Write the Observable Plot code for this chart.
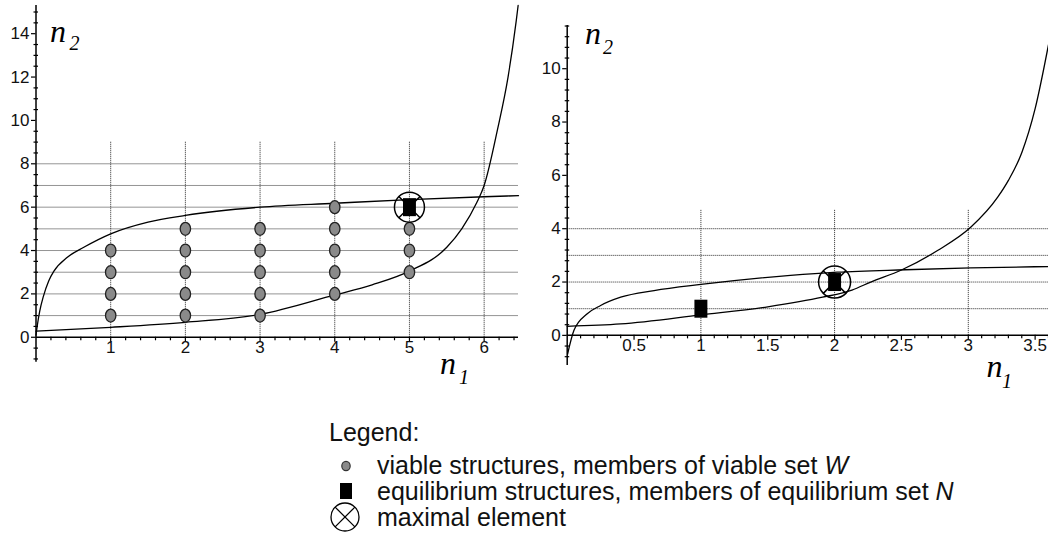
<!DOCTYPE html>
<html><head><meta charset="utf-8">
<script src="https://cdn.jsdelivr.net/npm/d3@7"></script>
<script src="https://cdn.jsdelivr.net/npm/@observablehq/plot@0.6"></script>
<style>
html,body{margin:0;padding:0;background:#fff;}
#page{position:relative;width:1048px;height:542px;overflow:hidden;background:#fff;}
#left,#right{position:absolute;top:0;}
#left{left:0;width:525px;}
#right{left:530px;width:518px;}
#page svg{display:block;}
#overlay{position:absolute;left:0;top:0;}
</style></head>
<body><div id="page"><div id="left"></div><div id="right"></div>
<svg id="overlay" width="1048" height="542"></svg></div>
<script>
// ---------------- data ----------------
// Left panel
const leftXTicks = [1, 2, 3, 4, 5, 6];
const leftYTicks = [0, 2, 4, 6, 8, 10, 12, 14];
const leftGridX = [1, 2, 3, 4, 5, 6];
const leftGridY = [1, 2, 3, 4, 5, 6, 7, 8];
const viableN1 = [1,1,1,1, 2,2,2,2,2, 3,3,3,3,3, 4,4,4,4,4, 5,5,5];
const viableN2 = [1,2,3,4, 1,2,3,4,5, 1,2,3,4,5, 2,3,4,5,6, 3,4,5];
const leftEqN1 = [5];
const leftEqN2 = [6];
const leftMaxN1 = [5];
const leftMaxN2 = [6];
const leftUpperX = [0, 0.02, 0.05, 0.1, 0.17, 0.24, 0.42, 0.64, 1.0, 1.5, 2.0, 3.0, 4.0, 5.0, 6.0, 6.46];
const leftUpperY = [0.1, 0.6, 1.2, 1.9, 2.6, 3.05, 3.69, 4.15, 4.77, 5.31, 5.62, 6.0, 6.18, 6.35, 6.48, 6.53];
const leftLowerX = [0, 1, 2, 3, 4, 4.5, 5, 5.5, 5.7, 5.9, 6.0, 6.18, 6.32, 6.43, 6.455];
const leftLowerY = [0.28, 0.46, 0.69, 1.05, 1.95, 2.42, 3.05, 4.15, 5.0, 6.2, 7.0, 9.6, 12, 14.6, 15.3];

// Right panel
const rightXTicks = [0.5, 1, 1.5, 2, 2.5, 3, 3.5];
const rightYTicks = [0, 2, 4, 6, 8, 10];
const rightGridX = [1, 2, 3];
const rightGridY = [1, 2, 3, 4];
const rightEqN1 = [1, 2];
const rightEqN2 = [1, 2];
const rightMaxN1 = [2];
const rightMaxN2 = [2];
const rightUpperX = [0.003, 0.05, 0.15, 0.25, 0.4, 0.65, 1.0, 1.67, 2.02, 2.53, 3.02, 3.6];
const rightUpperY = [-0.7, 0.18, 0.81, 1.12, 1.43, 1.68, 1.91, 2.25, 2.37, 2.46, 2.53, 2.58];
const rightLowerX = [0, 0.4, 1.0, 1.5, 1.91, 2.13, 2.27, 2.5, 2.77, 3.02, 3.22, 3.3, 3.4, 3.5, 3.6];
const rightLowerY = [0.34, 0.43, 0.77, 1.07, 1.43, 1.7, 2.0, 2.45, 3.18, 4.06, 5.18, 5.81, 6.85, 8.5, 10.9];

// ---------------- symbols ----------------
const ellipseSym = {draw(ctx, size) {
  const r = Math.sqrt(size / Math.PI), rx = r * 0.8, ry = r, k = 0.5523;
  ctx.moveTo(rx, 0);
  ctx.bezierCurveTo(rx, ry * k, rx * k, ry, 0, ry);
  ctx.bezierCurveTo(-rx * k, ry, -rx, ry * k, -rx, 0);
  ctx.bezierCurveTo(-rx, -ry * k, -rx * k, -ry, 0, -ry);
  ctx.bezierCurveTo(rx * k, -ry, rx, -ry * k, rx, 0);
  ctx.closePath();
}};
const rectSym = {draw(ctx, size) {
  const r = Math.sqrt(size / Math.PI), w = r * 1.44;
  ctx.rect(-w / 2, -r, w, 2 * r);
}};
const circleXSym = {draw(ctx, size) {
  const r = Math.sqrt(size / Math.PI), a = r * Math.SQRT1_2;
  ctx.moveTo(r, 0);
  ctx.arc(0, 0, r, 0, 2 * Math.PI);
  ctx.moveTo(-a, -a); ctx.lineTo(a, a);
  ctx.moveTo(-a, a); ctx.lineTo(a, -a);
}};

function zip(xs, ys) { return xs.map((x, i) => ({x, y: ys[i]})); }
function stepRange(a, b, s, skip) {
  const out = [];
  for (let i = Math.round(a / s); i * s <= b + 1e-9; i++) {
    const v = +(i * s).toFixed(4);
    if (!skip.some(m => Math.abs(m - v) < 1e-6)) out.push(v);
  }
  return out;
}

function panel(o) {
  const pxX = (o.width - o.mL - o.mR) / (o.xDom[1] - o.xDom[0]);
  const pxY = (o.height - o.mT - o.mB) / (o.yDom[1] - o.yDom[0]);
  const grid = {stroke: "#2a2a2a", strokeWidth: 1, strokeDasharray: "1,1"};
  const ax = {stroke: "#000", strokeWidth: 1.5};
  const tk = {stroke: "#000", strokeWidth: 1.2};
  const lab = {fontFamily: "Liberation Sans", fontSize: 17, fill: "#111"};
  return Plot.plot({
    width: o.width, height: o.height,
    marginLeft: o.mL, marginRight: o.mR, marginTop: o.mT, marginBottom: o.mB,
    x: {domain: o.xDom, axis: null},
    y: {domain: o.yDom, axis: null},
    style: {background: "transparent", overflow: "visible", maxWidth: "none"},
    marks: [
      Plot.ruleY(o.gridY, {y: d => d, x1: 0, x2: o.xDom[1], ...grid}),
      Plot.ruleX(o.gridX, {x: d => d, y1: 0, y2: o.gridTop, ...grid}),
      Plot.ruleX([0], {y1: o.yDom[0], y2: o.yDom[1], ...ax}),
      Plot.ruleY([0], {x1: 0, x2: o.xDom[1], ...ax}),
      Plot.ruleX(o.xTicks, {x: d => d, y1: 0, y2: -5 / pxY, ...tk}),
      Plot.ruleX(o.xMinor, {x: d => d, y1: 0, y2: -3.5 / pxY, ...tk}),
      Plot.ruleY(o.yTicks, {y: d => d, x1: -4.5 / pxX, x2: 0, ...tk}),
      Plot.ruleY(o.yMinor, {y: d => d, x1: -2 / pxX, x2: 2.5 / pxX, ...tk}),
      Plot.text(o.xTicks, {x: d => d, y: 0, text: d => String(d), lineAnchor: "top", dy: 4, ...lab}),
      Plot.text(o.yTicks, {x: 0, y: d => d, text: d => String(d), textAnchor: "end", dx: -6.5, ...lab}),
      ...o.curves.map(c => Plot.line(c, {x: "x", y: "y", curve: "monotone-x", stroke: "#000", strokeWidth: 1.3})),
      Plot.dot(o.viable, {x: "x", y: "y", symbol: ellipseSym, r: 6.5, fill: "#8a8a8a", stroke: "#222", strokeWidth: 1.3}),
      Plot.dot(o.maxEl, {x: "x", y: "y", symbol: circleXSym, r: o.maxR, fill: "none", stroke: "#000", strokeWidth: 1.5}),
      Plot.dot(o.eq, {x: "x", y: "y", symbol: rectSym, r: 9, fill: "#000", stroke: "none"})
    ]
  });
}

const left = panel({
  width: 525, height: 380, mL: 35.5, mR: 7, mT: 5, mB: 18.3,
  xDom: [0, 6.46], yDom: [-1.15, 15.3],
  gridX: leftGridX, gridTop: 9, gridY: leftGridY,
  xTicks: leftXTicks, xMinor: stepRange(0.2, 6.46, 0.2, leftXTicks),
  yTicks: leftYTicks, yMinor: stepRange(-1, 15.3, 0.5, leftYTicks),
  curves: [zip(leftUpperX, leftUpperY), zip(leftLowerX, leftLowerY)],
  viable: zip(viableN1, viableN2), eq: zip(leftEqN1, leftEqN2), maxEl: zip(leftMaxN1, leftMaxN2), maxR: 15
});
document.getElementById("left").appendChild(left);

const right = panel({
  width: 518, height: 380, mL: 36.7, mR: 0, mT: 25, mB: 15,
  xDom: [0, 3.6], yDom: [-1.13, 11.62],
  gridX: rightGridX, gridTop: 4.7, gridY: rightGridY,
  xTicks: rightXTicks, xMinor: stepRange(0.1, 3.6, 0.1, rightXTicks),
  yTicks: rightYTicks, yMinor: stepRange(-0.8, 11.62, 0.4, rightYTicks),
  curves: [zip(rightUpperX, rightUpperY), zip(rightLowerX, rightLowerY)],
  viable: [], eq: zip(rightEqN1, rightEqN2), maxEl: zip(rightMaxN1, rightMaxN2), maxR: 16
});
document.getElementById("right").appendChild(right);

// ---------------- axis titles & legend (overlay) ----------------
const ov = d3.select("#overlay");
const serif = "Liberation Serif";
function axisTitle(x, y, sub, sx, sy) {
  ov.append("text").attr("x", x).attr("y", y).attr("font-family", serif).attr("font-style", "italic")
    .attr("font-size", 32).attr("fill", "#000").text("n");
  ov.append("text").attr("x", sx).attr("y", sy).attr("font-family", serif).attr("font-style", "italic")
    .attr("font-size", 20).attr("fill", "#000").text(sub);
}
axisTitle(50, 42, "2", 69.5, 50);
axisTitle(585, 43.5, "2", 603, 53.5);
axisTitle(440, 373.5, "1", 459, 383.5);
axisTitle(986.5, 377, "1", 1002, 388);

const legendTitle = "Legend:";
const legendItems = [
  ["viable structures, members of viable set ", "W"],
  ["equilibrium structures, members of equilibrium set ", "N"],
  ["maximal element", ""]
];
const lf = {family: "Liberation Sans", size: 25};
ov.append("text").attr("x", 329).attr("y", 441).attr("font-family", lf.family).attr("font-size", lf.size)
  .attr("fill", "#111").text(legendTitle);
const rowY = [474, 500, 526];
legendItems.forEach((it, i) => {
  const t = ov.append("text").attr("x", 377).attr("y", rowY[i]).attr("font-family", lf.family)
    .attr("font-size", lf.size).attr("fill", "#111");
  t.append("tspan").text(it[0]);
  if (it[1]) t.append("tspan").attr("font-style", "italic").text(it[1]);
});
// legend symbols
ov.append("ellipse").attr("cx", 346).attr("cy", rowY[0] - 8).attr("rx", 4.2).attr("ry", 4.6)
  .attr("fill", "#8a8a8a").attr("stroke", "#333").attr("stroke-width", 1.2);
ov.append("rect").attr("x", 340).attr("y", rowY[1] - 17).attr("width", 12).attr("height", 16).attr("fill", "#000");
const cx = 345, cy = rowY[2] - 9, cr = 14, ca = cr * Math.SQRT1_2;
ov.append("circle").attr("cx", cx).attr("cy", cy).attr("r", cr).attr("fill", "none").attr("stroke", "#000").attr("stroke-width", 1.3);
ov.append("path").attr("d", `M${cx - ca},${cy - ca}L${cx + ca},${cy + ca}M${cx - ca},${cy + ca}L${cx + ca},${cy - ca}`)
  .attr("stroke", "#000").attr("stroke-width", 1.3);
</script></body></html>
